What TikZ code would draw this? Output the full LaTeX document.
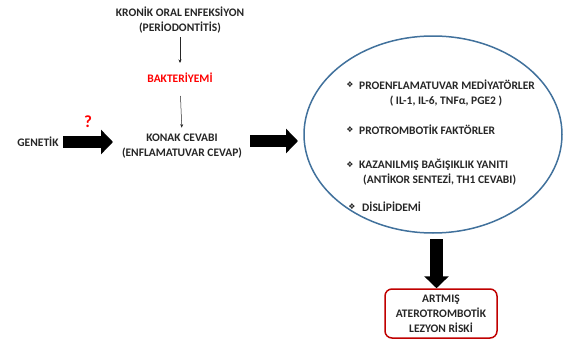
\documentclass[tikz,border=0pt]{standalone}
\usepackage{fontspec}
\setmainfont{Carlito}
\newfontfamily\symf{DejaVu Sans}
\usetikzlibrary{shapes.geometric,arrows.meta}
\definecolor{txt}{HTML}{262626}
\definecolor{ellblue}{HTML}{41719C}
\definecolor{boxred}{HTML}{C00000}
\definecolor{hired}{HTML}{FF0000}
\tikzset{
  lbl/.style={font=\fontsize{11.5}{15}\selectfont\bfseries, text=txt, align=center, inner sep=1pt},
  item/.style={lbl, anchor=west, align=left},
  thin/.style={draw=txt, line width=0.5pt, -{Stealth[length=3.5pt,width=3pt]}},
  fat/.style={line width=12.5pt, -{Triangle[width=24pt,length=12pt]}},
  bul/.style={font=\symf\fontsize{8}{8}\selectfont, text=txt, inner sep=0pt}
}
\begin{document}
\begin{tikzpicture}[x=1pt,y=-1pt]
\useasboundingbox (0,0) rectangle (571,340);
\node[lbl] (kronik) at (180,20) {KRONİK ORAL ENFEKSİYON\\(PERİODONTİTİS)};
\node[lbl, text=hired] (bakt) at (180,78) {BAKTERİYEMİ};
\node[lbl] (konak) at (182,146) {KONAK CEVABI\\(ENFLAMATUVAR CEVAP)};
\node[lbl] (genetik) at (38,142) {GENETİK};
\node[font=\fontsize{17}{17}\selectfont\bfseries, text=hired] (q) at (88,122) {?};
\draw[thin, shorten <=3pt, shorten >=9pt] (kronik.south) -- (bakt.north);
\draw[thin, shorten <=12pt, shorten >=5pt] (bakt.south) -- (konak.north);
\coordinate (g1) at (63,142);
\coordinate (g2) at (113,142);
\draw[fat] (g1) -- (g2);
\coordinate (k1) at (250,141);
\coordinate (k2) at (298,141);
\draw[fat] (k1) -- (k2);
\node[draw=ellblue, line width=1.5pt, ellipse, minimum width=258, minimum height=197, inner sep=0pt] (ell) at (433,134.5) {};
\node[bul] (b1) at (350,85) {❖};
\node[item] (t1) at (358,85) {PROENFLAMATUVAR MEDİYATÖRLER};
\node[lbl] (t1b) at (446,101) {( IL-1, IL-6, TNFα, PGE2 )};
\node[bul] (b2) at (350,130) {❖};
\node[item] (t2) at (358,130) {PROTROMBOTİK FAKTÖRLER};
\node[bul] (b3) at (350,165) {❖};
\node[item] (t3) at (358,165) {KAZANILMIŞ BAĞIŞIKLIK YANITI};
\node[item] (t3b) at (362,180) {(ANTİKOR SENTEZİ, TH1 CEVABI)};
\node[bul] (b4) at (352,207) {❖};
\node[item] (t4) at (361,207) {DİSLİPİDEMİ};
\node[draw=boxred, line width=1.5pt, rounded corners=7pt, minimum width=112, minimum height=49, lbl, inner sep=1pt] (risk) at (441,313.5) {ARTMIŞ\\ATEROTROMBOTİK\\LEZYON RİSKİ};
\coordinate (d1) at (436.5,239);
\draw[fat] (d1) -- (risk.north -| d1);
\end{tikzpicture}
\end{document}
